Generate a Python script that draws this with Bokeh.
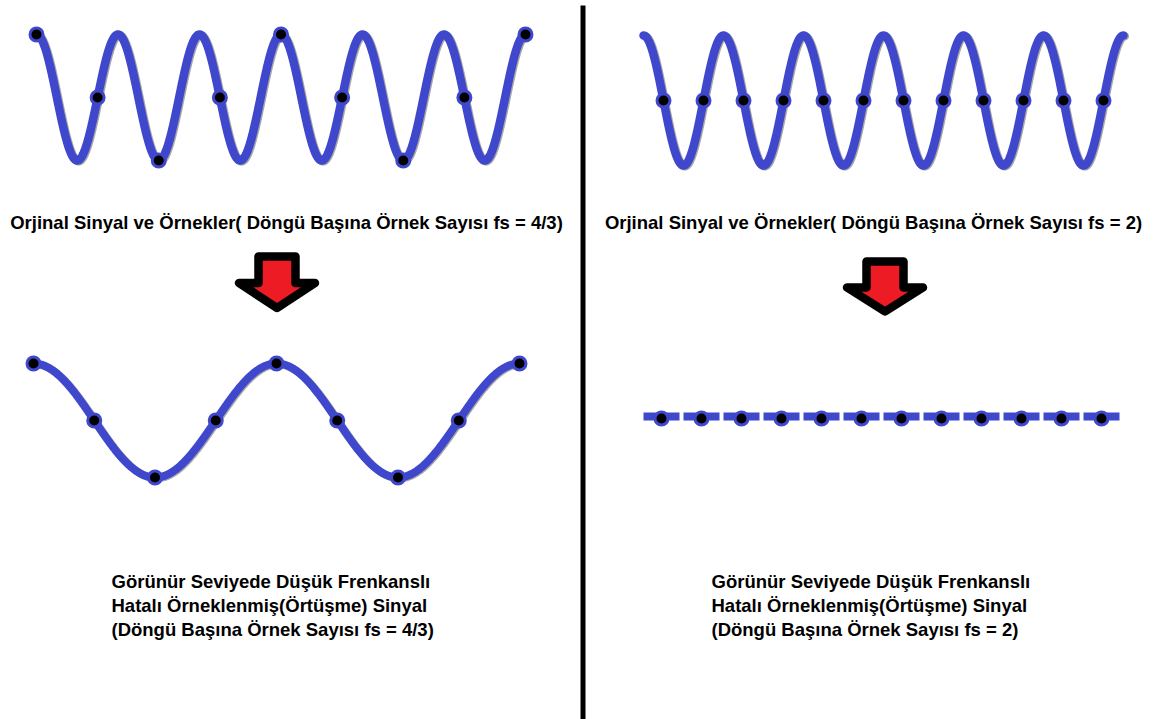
import numpy as np
from bokeh.plotting import figure
from bokeh.models import Range1d
from bokeh.embed import file_html
from bokeh.resources import INLINE
from bokeh.core.properties import value

# ---------------- data ----------------
orig_cycles = 6                 # cycles of the original signal drawn
left_fs = 4 / 3                 # samples per cycle (left)
right_fs = 2                    # samples per cycle (right)
right_sample_phase = 0.25       # first sample position (cycles) on the right
left_sample_values = [1, 0, -1, 0, 1, 0, -1, 0, 1]
right_sample_values = [0, 0, 0, 0, 0, 0, 0, 0, 0, 0, 0, 0]
left_alias_values = [1, 0, -1, 0, 1, 0, -1, 0, 1]
right_alias_values = [0, 0, 0, 0, 0, 0, 0, 0, 0, 0, 0, 0]

top_title_left = "Orjinal Sinyal ve Örnekler( Döngü Başına Örnek Sayısı fs = 4/3)"
top_title_right = "Orjinal Sinyal ve Örnekler( Döngü Başına Örnek Sayısı fs = 2)"
bottom_lines_left = ["Görünür Seviyede Düşük Frenkanslı",
                     "Hatalı Örneklenmiş(Örtüşme) Sinyal",
                     "(Döngü Başına Örnek Sayısı fs = 4/3)"]
bottom_lines_right = ["Görünür Seviyede Düşük Frenkanslı",
                      "Hatalı Örneklenmiş(Örtüşme) Sinyal",
                      "(Döngü Başına Örnek Sayısı fs = 2)"]

# ---------------- style ----------------
BLUE = "#3f48cc"
RED = "#ed1c24"
FONT = value("Liberation Sans")

W, H = 1154, 719
p = figure(width=W, height=H, output_backend="svg", toolbar_location=None,
           x_range=Range1d(0, W), y_range=Range1d(H, 0),
           min_border=0, outline_line_color=None, background_fill_color="white")
p.axis.visible = False
p.grid.visible = False


def draw_curve(xs, ys, width=8.5):
    p.line(xs + 1.3, ys + 0.8, line_color="#505050", line_width=width, line_alpha=0.5,
           line_cap="round", line_join="round")
    p.line(xs, ys, line_color=BLUE, line_width=width, line_cap="round", line_join="round")


def draw_dots(xs, ys):
    p.scatter(xs, ys, size=13, fill_color="black", line_color=BLUE, line_width=3)


# ----- top left: original signal, fs = 4/3 -----
x0, period, yc, amp = 36, (525 - 36) / orig_cycles, 97, 63
t = np.linspace(0, orig_cycles, 1200)
draw_curve(x0 + t * period, yc - amp * np.cos(2 * np.pi * t))
ts = np.arange(len(left_sample_values)) / left_fs
draw_dots(x0 + ts * period, yc - amp * np.array(left_sample_values))

# ----- top right: original signal, fs = 2 -----
x0, period, yc, amp = 643, 80, 100, 65
t = np.linspace(0, orig_cycles, 1200)
draw_curve(x0 + t * period, yc - amp * np.cos(2 * np.pi * t))
ts = right_sample_phase + np.arange(len(right_sample_values)) / right_fs
draw_dots(x0 + ts * period, yc - amp * np.array(right_sample_values))

# ----- bottom left: aliased signal -----
n = len(left_alias_values)
x0, step, yc, amp = 33, (519 - 33) / (n - 1), 420, 57
alias_f = abs(1 / left_fs - round(1 / left_fs))   # cycles per sample
s = np.linspace(0, n - 1, 800)
draw_curve(x0 + s * step, yc - amp * np.cos(2 * np.pi * alias_f * s), width=8)
draw_dots(x0 + np.arange(n) * step, yc - amp * np.array(left_alias_values))

# ----- bottom right: aliased (flat) signal, dashed -----
n = len(right_alias_values)
x0, step, yc, amp = 661, 40, 418, 57
sx = x0 + np.arange(n) * step
sy = yc - amp * np.array(right_alias_values)
half = 18
p.segment(sx - half, sy - 2, sx + half, sy - 2, line_color=BLUE, line_width=8, line_cap="butt")
draw_dots(sx, sy)

# ----- arrows -----
def arrow(cx, top, head_top, tip, shaft_hw=18.5, head_hw=38):
    xs = [cx - shaft_hw, cx + shaft_hw, cx + shaft_hw, cx + head_hw, cx,
          cx - head_hw, cx - shaft_hw]
    ys = [top, top, head_top, head_top, tip, head_top, head_top]
    p.patch(xs, ys, fill_color=RED, line_color="black", line_width=8.5, line_join="round")

arrow(276.5, 256, 282.5, 307.5)
arrow(884.5, 261, 287, 311)

# ----- divider -----
p.quad(left=[580], right=[585], top=[5], bottom=[H], fill_color="black", line_color=None)

# ----- texts -----
p.text(x=[286, 873], y=[222, 222], text=[top_title_left, top_title_right],
       text_font=FONT, text_font_style="bold", text_font_size="18.5px",
       text_align="center", text_baseline="middle", text_color="black")

ly = [581, 605, 629]
p.text(x=[111] * 3, y=ly, text=bottom_lines_left, text_font=FONT, text_font_style="bold",
       text_font_size="18.5px", text_align="left", text_baseline="middle", text_color="black")
p.text(x=[711] * 3, y=ly, text=bottom_lines_right, text_font=FONT, text_font_style="bold",
       text_font_size="18.5px", text_align="left", text_baseline="middle", text_color="black")

open("out.html", "w").write(file_html(p, INLINE))
